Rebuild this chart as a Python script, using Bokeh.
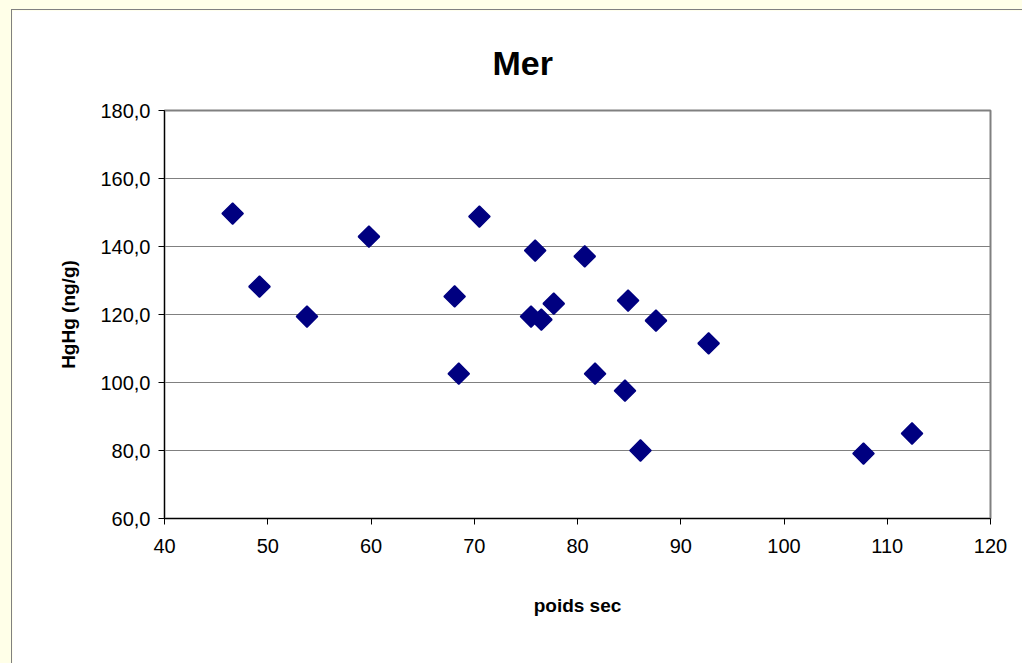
from bokeh.plotting import figure
from bokeh.models import ColumnDataSource, FixedTicker, CustomJSTickFormatter, Column
from bokeh.embed import file_html
from bokeh.resources import INLINE

# Data
poids_sec = [46.6, 49.2, 53.8, 59.8, 68.1, 68.5, 70.5, 75.9, 75.5, 76.5,
             77.7, 80.7, 81.7, 84.6, 84.9, 86.1, 87.6, 92.7, 107.7, 112.4]
hg = [149.7, 128.2, 119.4, 142.9, 125.3, 102.6, 148.8, 138.8, 119.4, 118.5,
      123.2, 137.1, 102.6, 97.6, 124.1, 80.0, 118.2, 111.5, 79.1, 85.0]
x_ticks = [40, 50, 60, 70, 80, 90, 100, 110, 120]
y_ticks = [60, 80, 100, 120, 140, 160, 180]

title_text = "Mer"
x_label = "poids sec"
y_label = "HgHg (ng/g)"

src = ColumnDataSource(data=dict(x=poids_sec, y=hg))

p = figure(width=1011, height=654, output_backend="svg", toolbar_location=None,
           x_range=(40, 120), y_range=(60, 180), title=title_text,
           min_border_left=152, min_border_right=33, min_border_top=100,
           min_border_bottom=146, margin=(9, 0, 0, 11))
p.styles = {"border-left": "1px solid #808080", "border-top": "1px solid #808080"}
p.background_fill_color = "white"
p.border_fill_color = "white"
p.outline_line_color = "#808080"
p.outline_line_width = 2

p.title.text_font = "Liberation Sans"
p.title.text_font_size = "34px"
p.title.text_font_style = "bold"
p.title.text_color = "black"
p.title.align = "left"
p.title.offset = 328
p.title.standoff = 58

p.scatter("x", "y", source=src, marker="square", size=15, angle=0.785398,
          fill_color="#000080", line_color="#000080", line_width=1.5)

p.xaxis.ticker = FixedTicker(ticks=x_ticks)
p.yaxis.ticker = FixedTicker(ticks=y_ticks)
p.yaxis.formatter = CustomJSTickFormatter(code="return tick.toFixed(1).replace('.', ',');")
for ax in (p.xaxis[0], p.yaxis[0]):
    ax.major_label_text_font = "Liberation Sans"
    ax.major_label_text_font_size = "20px"
    ax.major_label_text_color = "black"
    ax.axis_line_color = "black"
    ax.major_tick_line_color = "black"
    ax.major_tick_out = 6
    ax.major_tick_in = 0
    ax.minor_tick_line_color = None
    ax.axis_label_text_font = "Liberation Sans"
    ax.axis_label_text_font_size = "19px"
    ax.axis_label_text_font_style = "bold"
    ax.axis_label_text_color = "black"
p.xaxis.axis_label = x_label
p.yaxis.axis_label = y_label
p.xaxis.major_label_standoff = 14
p.yaxis.major_label_standoff = 8
p.xaxis.axis_label_standoff = 39
p.yaxis.axis_label_standoff = 18

p.xgrid.grid_line_color = None
p.ygrid.grid_line_color = "#808080"
p.ygrid.grid_line_width = 1

layout = Column(p, width=1022, height=663,
                styles={"background-color": "#FFFFE8"})

open("out.html", "w").write(file_html(layout, INLINE))
